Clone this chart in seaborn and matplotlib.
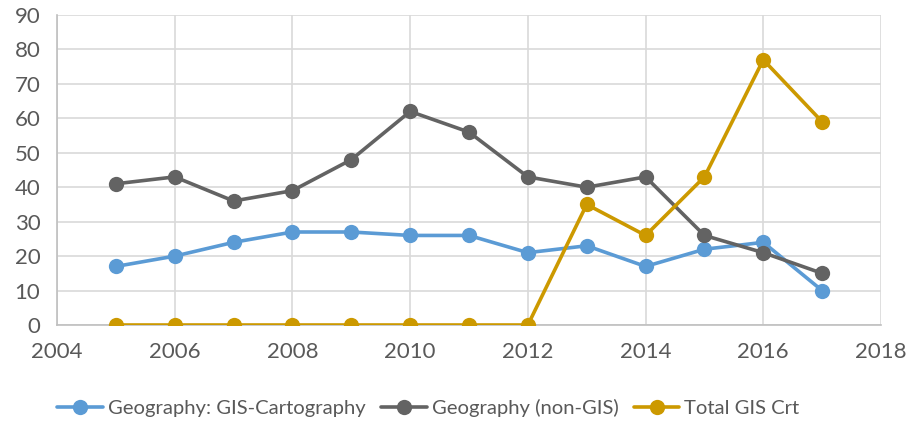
import matplotlib
matplotlib.use("Agg")
import matplotlib.pyplot as plt
import seaborn as sns
import pandas as pd

years = [2005, 2006, 2007, 2008, 2009, 2010, 2011, 2012, 2013, 2014, 2015, 2016, 2017]
gis_carto = [17, 20, 24, 27, 27, 26, 26, 21, 23, 17, 22, 24, 10]
non_gis = [41, 43, 36, 39, 48, 62, 56, 43, 40, 43, 26, 21, 15]
total_gis_crt = [0, 0, 0, 0, 0, 0, 0, 0, 35, 26, 43, 77, 59]
series_names = ["Geography: GIS-Cartography", "Geography (non-GIS)", "Total GIS Crt"]
colors = ["#5B9BD5", "#636363", "#CC9900"]
x_ticks = [2004, 2006, 2008, 2010, 2012, 2014, 2016, 2018]
y_ticks = [0, 10, 20, 30, 40, 50, 60, 70, 80, 90]

rows = []
for name, vals in zip(series_names, [gis_carto, non_gis, total_gis_crt]):
    for y, v in zip(years, vals):
        rows.append({"Year": y, "Value": v, "Series": name})
df = pd.DataFrame(rows)

sns.set_theme(style="white")
plt.rcParams["font.family"] = ["Lato", "DejaVu Sans"]

fig = plt.figure(figsize=(9.06, 4.23), dpi=100)
ax = fig.add_axes([57/906, 1 - 325/423, (881-57)/906, (325-15)/423])

sns.lineplot(data=df, x="Year", y="Value", hue="Series", hue_order=series_names,
             palette=colors, marker="o", markersize=11, markeredgewidth=0,
             linewidth=2.6, dashes=False, ax=ax, legend=True, zorder=3)

ax.set_xlim(2004, 2018)
ax.set_ylim(0, 90)
ax.set_xticks(x_ticks)
ax.set_yticks(y_ticks)
ax.grid(True, color="#D9D9D9", linewidth=1.2)
ax.set_axisbelow(True)
for s in ["top", "right"]:
    ax.spines[s].set_visible(False)
for s in ["left", "bottom"]:
    ax.spines[s].set_color("#BFBFBF")
    ax.spines[s].set_linewidth(1.2)
ax.tick_params(axis="both", labelsize=16, colors="#595959", length=0)
ax.tick_params(axis="x", pad=12)
ax.tick_params(axis="y", pad=12)
ax.set_xlabel("")
ax.set_ylabel("")

handles, labels = ax.get_legend_handles_labels()
ax.legend_.remove()
leg = fig.legend(handles, labels, loc="center", bbox_to_anchor=(0.473, 1 - 408/423),
                 ncol=3, frameon=False, fontsize=14.6, handlelength=2.25,
                 columnspacing=0.75, handletextpad=0.25)
for t in leg.get_texts():
    t.set_color("#595959")

fig.savefig("out.png", dpi=100)
